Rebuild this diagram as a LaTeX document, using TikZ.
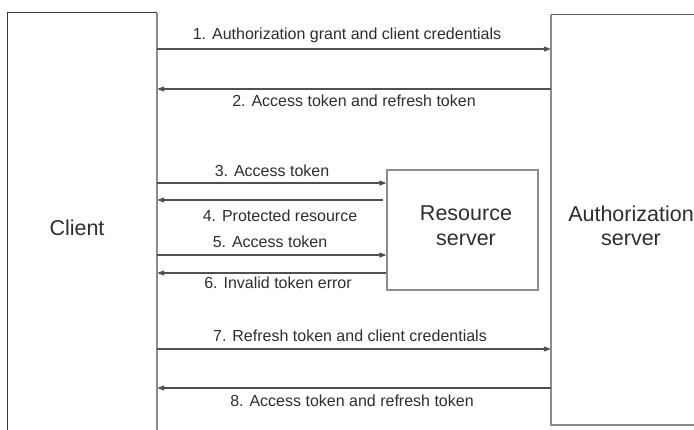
\documentclass[tikz,border=0pt]{standalone}
\usepackage{fontspec}
\setmainfont{Liberation Sans}
\usetikzlibrary{arrows.meta}

\definecolor{frame}{HTML}{8C8C8C}
\definecolor{frameDark}{HTML}{3A3A3A}
\definecolor{flowline}{HTML}{505050}
\definecolor{ink}{HTML}{2E2E2E}

\tikzset{
  party/.style={rectangle, draw=none, inner sep=0pt},
  msg/.style={draw=flowline, line width=1.1pt,
              -{Triangle[length=7pt,width=5pt]}},
  msgtext/.style={anchor=base, inner sep=0pt, text=ink,
                  font=\fontsize{16}{19}\selectfont},
  bigtext/.style={anchor=base, inner sep=0pt, text=ink,
                  font=\fontsize{21.5}{25}\selectfont},
}

\begin{document}
\begin{tikzpicture}[x=1pt, y=-1pt]
  \useasboundingbox (0,0) rectangle (694,430);
  \clip (0,0) rectangle (694,430);
  \fill[white] (0,0) rectangle (694,430);

  % the three parties
  \node[party, minimum width=149pt, minimum height=440pt] (client) at (82.5,233) {};
  \node[party, minimum width=170pt, minimum height=410pt] (auth) at (636,220) {};
  \node[party, draw=frame, line width=1.2pt, minimum width=151pt, minimum height=120pt]
       (res) at (462.5,230) {};

  % client frame: dark top and left side, lighter right side
  \draw[frameDark, line width=1.3pt] (client.south west) -- (client.north west) -- (client.north east);
  \draw[frame, line width=1.6pt] (client.north east) -- (client.south east);
  % authorization server frame: dark top, lighter left and bottom
  \draw[frameDark!80, line width=1.3pt] (auth.north west) -- (auth.north east);
  \draw[frame, line width=1.6pt] (auth.north west) -- (auth.south west) -- (auth.south east);

  % party names
  \node[bigtext] (clientname) at (77,236) {Client};
  \node[bigtext] (resname1) at (466,221) {Resource};
  \node[bigtext] (resname2) at (466,246) {server};
  \node[bigtext] (authname1) at (631,222) {Authorization};
  \node[bigtext] (authname2) at (631,246) {server};

  % message levels
  \coordinate (m1) at (0,49);
  \coordinate (m2) at (0,89);
  \coordinate (m3) at (0,183);
  \coordinate (m4) at (0,200);
  \coordinate (m5) at (0,255);
  \coordinate (m6) at (0,273);
  \coordinate (m7) at (0,349);
  \coordinate (m8) at (0,388);
  \coordinate (m4start) at (383,200);

  % messages
  \draw[msg] (client.east |- m1) -- (auth.west |- m1);
  \draw[msg] (auth.west |- m2) -- (client.east |- m2);
  \draw[msg] (client.east |- m3) -- (res.west |- m3);
  \draw[msg] (m4start) -- (client.east |- m4);
  \draw[msg] (client.east |- m5) -- (res.west |- m5);
  \draw[msg] (res.west |- m6) -- (client.east |- m6);
  \draw[msg] (client.east |- m7) -- (auth.west |- m7);
  \draw[msg] (auth.west |- m8) -- (client.east |- m8);

  % message labels
  \node[msgtext] (t1) at (347,40) {1. Authorization grant and client credentials};
  \node[msgtext] (t2) at (354,107) {2. Access token and refresh token};
  \node[msgtext] (t3) at (272,177) {3. Access token};
  \node[msgtext] (t4) at (280,222) {4. Protected resource};
  \node[msgtext] (t5) at (270,248) {5. Access token};
  \node[msgtext] (t6) at (278,289) {6. Invalid token error};
  \node[msgtext] (t7) at (350,342) {7. Refresh token and client credentials};
  \node[msgtext] (t8) at (352,407) {8. Access token and refresh token};
\end{tikzpicture}
\end{document}
